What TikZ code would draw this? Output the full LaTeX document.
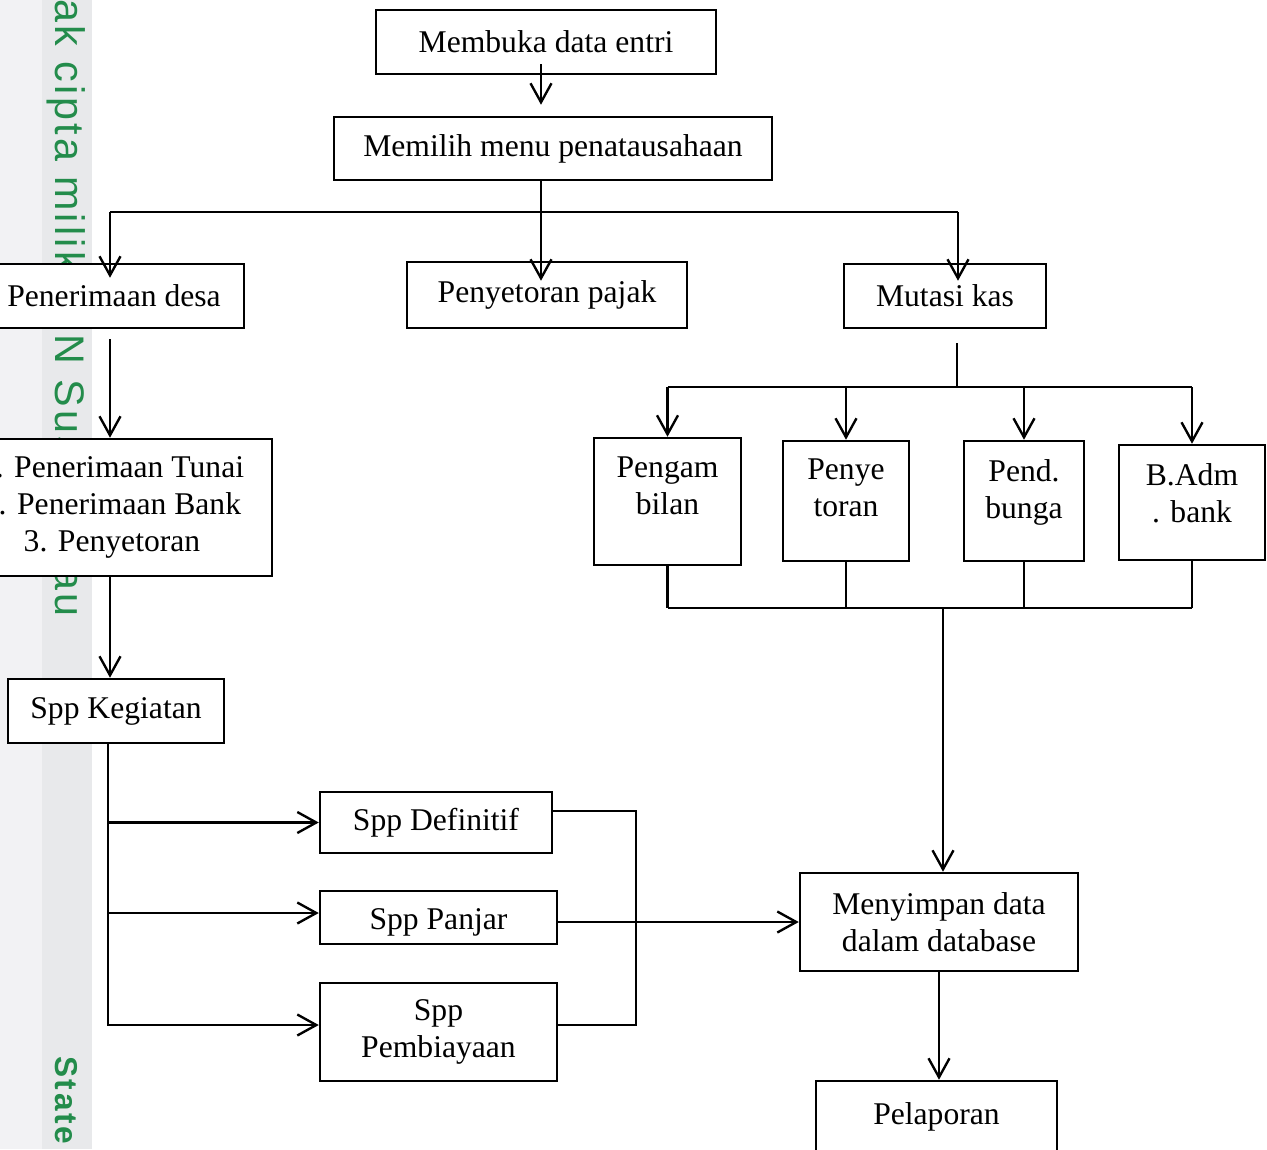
\documentclass[tikz,border=0pt]{standalone}
\usepackage{fontspec}
\setmainfont{Liberation Serif}
\newfontfamily\wmfont[LetterSpace=8]{Liberation Sans}
\usepackage{xcolor}
\usetikzlibrary{positioning,calc,arrows.meta}
\definecolor{wmgreen}{RGB}{35,140,75}
\definecolor{stripa}{RGB}{242,242,244}
\definecolor{stripb}{RGB}{232,233,235}

\begin{document}
\begin{tikzpicture}[x=0.02cm,y=-0.02cm,
		box/.style={draw,line width=1.45pt,fill=white,align=center,inner sep=0pt,font=\fontsize{18}{21}\selectfont},
		tag/.style={align=center,font=\fontsize{18}{21}\selectfont},
		link/.style={line width=1.35pt},
		arr/.style={line width=1.35pt,-{Straight Barb[length=0.38cm,width=0.42cm]}}]
			\useasboundingbox (0,0) rectangle (1267,1149);
			
			\fill[stripa] (0,0) rectangle (42,1149);
			\fill[stripb] (42,0) rectangle (92,1149);
			\node[rotate=-90,anchor=base west,inner sep=0pt,text=wmgreen,font=\wmfont\fontsize{23.5}{28}\selectfont] (hakcipta) at (55,-34) {Hak cipta milik UIN Suska Riau};
			\node[rotate=-90,anchor=base west,inner sep=0pt,text=wmgreen,font=\wmfont\bfseries\fontsize{18}{21}\selectfont] (state) at (55,1056) {State};
			
			\node[box,minimum width=6.8cm,minimum height=1.28cm] (membuka) at (546,42) {Membuka data entri};
			\node[box,minimum width=8.76cm,minimum height=1.26cm] (memilih) at (553,148.5) {Memilih menu penatausahaan};
			\node[box,minimum width=5.2cm,minimum height=1.28cm] (penerimaan) at (114,296) {Penerimaan desa};
			\node[box,minimum width=5.6cm,minimum height=1.32cm] (pajak) at (547,295) {Penyetoran pajak};
			\node[box,minimum width=4.04cm,minimum height=1.28cm] (mutasi) at (945,296) {Mutasi kas};
			\node[box,minimum width=6.4cm,minimum height=2.74cm] (jenis) at (112,507.5) {1. Penerimaan Tunai\\2. Penerimaan Bank\\3. Penyetoran};
			\node[box,minimum width=4.32cm,minimum height=1.28cm] (kegiatan) at (116,711) {Spp Kegiatan};
			\node[box,minimum width=4.64cm,minimum height=1.22cm] (definitif) at (436,822.5) {Spp Definitif};
			\node[box,minimum width=4.74cm,minimum height=1.06cm,label={[tag,yshift=-0.1cm]center:Spp Panjar}] (panjar) at (438.5,917.5) {};
			\node[box,minimum width=4.74cm,minimum height=1.96cm] (pembiayaan) at (438.5,1032) {Spp\\Pembiayaan};
			\node[box,minimum width=5.56cm,minimum height=1.96cm] (menyimpan) at (939,922) {Menyimpan data\\dalam database};
			\node[box,minimum width=4.82cm,minimum height=1.42cm] (pelaporan) at (936.5,1116.5) {Pelaporan};
			
			\node[box,minimum width=2.94cm,minimum height=2.54cm,label={[tag,yshift=0.32cm]center:Pengam\\bilan}] (pengambilan) at (667.5,501.5) {};
			\node[box,minimum width=2.52cm,minimum height=2.4cm,label={[tag,yshift=0.26cm]center:Penye\\toran}] (penyetoran) at (846,501) {};
			\node[box,minimum width=2.4cm,minimum height=2.4cm,label={[tag,yshift=0.18cm]center:Pend.\\bunga}] (bunga) at (1024,501) {};
			\node[box,minimum width=2.92cm,minimum height=2.3cm,label={[tag,yshift=0.19cm]center:B.Adm\\. bank}] (badm) at (1192,502.5) {};
			
			\coordinate (pisah) at (541,212);
			\coordinate (kiri) at (110,212);
			\coordinate (kanan) at (958,212);
			\coordinate (batang) at (108,743);
			\coordinate (gabung) at (636,922);
			\coordinate (atas) at (957,387);
			\coordinate (bawah) at (943,608);
			
			\draw[arr] ([yshift=0.22cm]membuka.south -| pisah) -- ([yshift=0.22cm]memilih.north -| pisah);
			\draw[arr] (memilih.south -| pisah) -- ([yshift=-0.4cm]pajak.north -| pisah);
			\draw[link] (kiri) -- (kanan);
			\draw[arr] (kiri) -- ([yshift=-0.3cm]penerimaan.north -| kiri);
			\draw[arr] (kanan) -- ([yshift=-0.36cm]mutasi.north -| kanan);
			
			\draw[arr] ([yshift=-0.2cm]penerimaan.south -| kiri) -- (jenis.north -| kiri);
			\draw[arr] (jenis.south -| kiri) -- (kegiatan.north -| kiri);
			\draw[arr] (kegiatan.south -| batang) |- ([yshift=0.14cm]pembiayaan.west);
			\draw[arr] (definitif.west -| batang) -- (definitif.west);
			\draw[arr] ([yshift=0.09cm]panjar.west -| batang) -- ([yshift=0.09cm]panjar.west);
			\draw[link] ([yshift=0.23cm]definitif.east) -| (gabung) |- ([yshift=0.14cm]pembiayaan.east);
			\draw[arr] (panjar.east |- menyimpan.west) -- (menyimpan.west);
			
			\draw[link] ([yshift=-0.28cm]mutasi.south -| atas) -- (atas);
			\draw[link] (atas -| pengambilan) -- (atas -| badm);
			\foreach \k in {pengambilan,penyetoran,bunga,badm} {
				\draw[arr] (atas -| \k) -- (\k.north);
				\draw[link] (\k.south) -- (bawah -| \k);
			}
			\draw[link] (bawah -| pengambilan) -- (bawah -| badm);
			\draw[arr] (bawah) -- (menyimpan.north -| bawah);
			\draw[arr] (menyimpan.south) -- (menyimpan.south |- pelaporan.north);
		\end{tikzpicture}
\end{document}
